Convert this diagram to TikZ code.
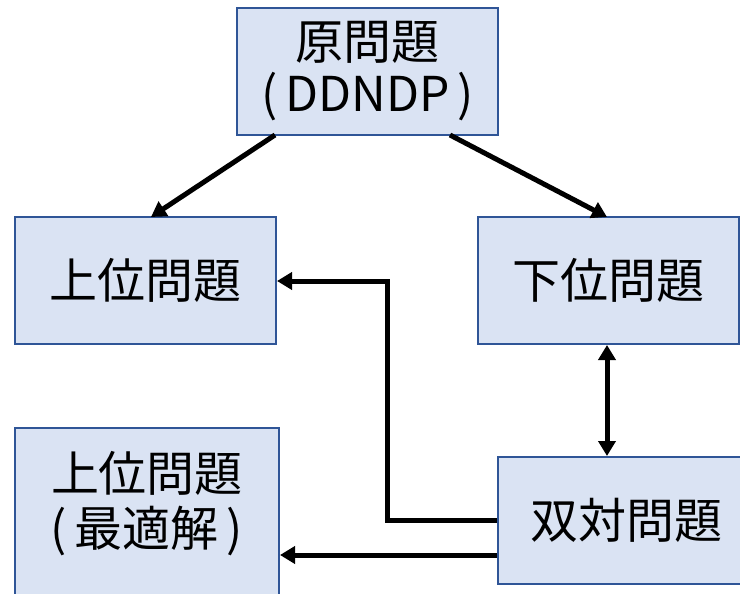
\documentclass[tikz,border=0pt]{standalone}
\usepackage{fontspec}
\setmainfont{Noto Sans CJK JP}
\usetikzlibrary{arrows.meta}
\definecolor{boxfill}{HTML}{DAE3F3}
\definecolor{boxline}{HTML}{2F5597}
\begin{document}
\begin{tikzpicture}[x=1pt,y=-1pt,
  box/.style={draw=boxline,fill=boxfill,line width=2pt,inner sep=0pt,
    minimum width=261pt,minimum height=127pt,align=center,
    font=\fontsize{48}{52}\selectfont},
  conn/.style={line width=5pt,-{Triangle[length=15pt,width=17pt]}},
  conn2/.style={line width=5pt,{Triangle[length=15pt,width=17pt]}-{Triangle[length=15pt,width=17pt]}}]
\useasboundingbox (0,0) rectangle (740,594);
\begin{scope}
\clip (0,0) rectangle (740,594);
\node[box] (top) at (367.5,71.5) {原問題\\(\,DDNDP\,)};
\node[box] (ul) at (145.5,280.5) {上位問題};
\node[box] (ur) at (608,280.5) {下位問題};
\node[box,minimum width=264pt,minimum height=190pt] (bl) at (147,523) {};
\node[align=center,inner sep=0pt,font=\fontsize{48}{55}\selectfont] (blt) at (147,503.5) {上位問題\\(\,最適解\,)};
\node[box] (br) at (628.5,520.5) {};
\node[inner sep=0pt,font=\fontsize{48}{52}\selectfont] (brt) at (626,520.5) {双対問題};
\end{scope}
\coordinate (a1) at (275,135);
\coordinate (a2) at (450,135);
\draw[conn] (a1) -- (151,217);
\draw[conn] (a2) -- (607,217);
\draw[conn2] (ur.south -| 607,0) -- (br.north -| 607,0);
\draw[conn,line join=miter] (br.west |- 0,520) -- (387,520) -- (387,281) -- (ul.east |- 0,281);
\draw[conn] (br.west |- 0,555) -- (bl.east |- 0,555);
\end{tikzpicture}
\end{document}
